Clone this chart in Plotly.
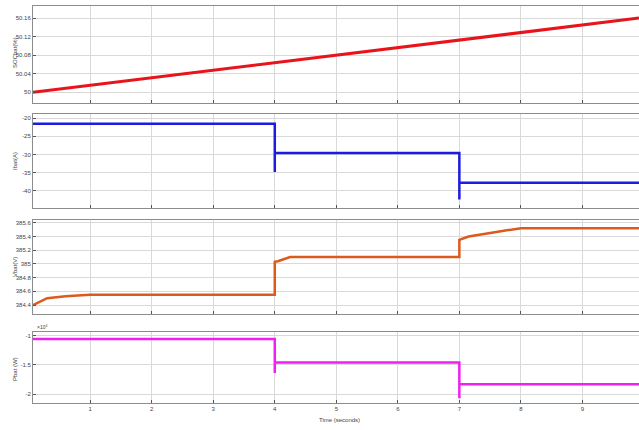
import plotly.graph_objects as go

# ---- data -------------------------------------------------------------
t_soc = [0.07, 4.0, 7.0, 9.92]
soc = [50.0, 50.064, 50.113, 50.16]

t_ib = [0.07, 4.0, 4.0, 4.0, 7.0, 7.0, 7.0, 9.92]
ib = [-21.6, -21.6, -34.8, -29.6, -29.6, -42.4, -37.8, -37.8]

t_v = [0.07, 0.3, 0.6, 1.0, 4.0, 4.0, 4.05, 4.25, 7.0, 7.0, 7.15, 7.4, 7.7, 8.0, 9.92]
v = [384.40, 384.50, 384.53, 384.55, 384.55, 385.03, 385.04, 385.10, 385.10,
     385.35, 385.40, 385.44, 385.48, 385.52, 385.52]

t_p = [0.07, 4.0, 4.0, 4.0, 7.0, 7.0, 7.0, 9.92]
p = [-1.06, -1.06, -1.64, -1.46, -1.46, -2.07, -1.83, -1.83]

x_ticks = [1, 2, 3, 4, 5, 6, 7, 8, 9]
soc_ticks = [50.0, 50.04, 50.08, 50.12, 50.16]
soc_labels = ["50", "50.04", "50.08", "50.12", "50.16"]
ib_ticks = [-40, -35, -30, -25, -20]
v_ticks = [384.4, 384.6, 384.8, 385.0, 385.2, 385.4, 385.6]
v_labels = ["384.4", "384.6", "384.8", "385", "385.2", "385.4", "385.6"]
p_ticks = [-2.0, -1.5, -1.0]
p_labels = ["-2", "-1.5", "-1"]

# ---- figure -----------------------------------------------------------
W, H = 639, 430
ML, MR, MT, MB = 33, 0, 6, 27
FONT = "Liberation Sans, Arial, sans-serif"
GRID = "#d9d9d9"
FRAME = "#8c8c8c"
TICKFONT = dict(family=FONT, size=6, color="#444444")

fig = go.Figure()

fig.add_trace(go.Scatter(x=t_soc, y=soc, mode="lines",
                         line=dict(color="#e8141c", width=3), xaxis="x", yaxis="y"))
fig.add_trace(go.Scatter(x=t_ib, y=ib, mode="lines",
                         line=dict(color="#1c1ce0", width=2.5), xaxis="x2", yaxis="y2"))
fig.add_trace(go.Scatter(x=t_v, y=v, mode="lines",
                         line=dict(color="#dc5a1e", width=2.5), xaxis="x3", yaxis="y3"))
fig.add_trace(go.Scatter(x=t_p, y=p, mode="lines",
                         line=dict(color="#f020f0", width=2.5), xaxis="x4", yaxis="y4"))

plot_h = H - MT - MB


def dom(top_px, bot_px):
    return [(H - MB - bot_px) / plot_h, (H - MB - top_px) / plot_h]


panels = [
    (6, 103, [49.977, 50.186], soc_ticks, soc_labels),
    (114, 208, [-44.7, -18.9], ib_ticks, [str(t) for t in ib_ticks]),
    (220, 314, [384.27, 385.64], v_ticks, v_labels),
    (332, 403, [-2.15, -0.94], p_ticks, p_labels),
]

x_range = [0.07, 9.92]
layout = dict(
    width=W, height=H,
    margin=dict(l=ML, r=MR, t=MT, b=MB),
    paper_bgcolor="white", plot_bgcolor="white",
    showlegend=False,
    font=dict(family=FONT, size=6, color="#444444"),
)

for i, (top, bot, yr, tv, tt) in enumerate(panels, start=1):
    xa = "xaxis" if i == 1 else f"xaxis{i}"
    ya = "yaxis" if i == 1 else f"yaxis{i}"
    yname = "y" if i == 1 else f"y{i}"
    layout[xa] = dict(
        domain=[0, 1], anchor=yname, range=x_range,
        tickvals=x_ticks, ticktext=[str(t) for t in x_ticks],
        showticklabels=(i == 4), ticks="inside", ticklen=3, tickcolor="#555555",
        showgrid=True, gridcolor=GRID, gridwidth=1,
        showline=True, linecolor=FRAME, linewidth=1, mirror=True,
        zeroline=False, tickfont=TICKFONT,
    )
    layout[ya] = dict(
        domain=dom(top, bot), anchor="x" if i == 1 else f"x{i}", range=yr,
        tickvals=tv, ticktext=tt, ticks="inside", ticklen=3, tickcolor="#555555",
        showgrid=True, gridcolor=GRID, gridwidth=1,
        showline=True, linecolor=FRAME, linewidth=1, mirror=True,
        zeroline=False, tickfont=TICKFONT,
    )

fig.update_layout(**layout)

# axis titles
titles = [("SOCbat(%)", 53), ("Ibat(A)", 161), ("Vbat(V)", 267), ("Pbat (W)", 369)]
for text, ypx in titles:
    fig.add_annotation(
        text=text, xref="paper", yref="paper",
        x=(15 - ML) / (W - ML - MR), y=(H - MB - ypx) / plot_h,
        showarrow=False, textangle=-90, xanchor="center", yanchor="middle",
        font=dict(family=FONT, size=6, color="#444444"),
    )

fig.add_annotation(
    text="Time (seconds)", xref="paper", yref="paper",
    x=(339 - ML) / (W - ML - MR), y=(H - MB - 420) / plot_h,
    showarrow=False, xanchor="center", yanchor="middle",
    font=dict(family=FONT, size=6, color="#444444"),
)

fig.add_annotation(
    text="×10<sup>4</sup>", xref="paper", yref="paper",
    x=(35 - ML) / (W - ML - MR), y=(H - MB - 327) / plot_h,
    showarrow=False, xanchor="left", yanchor="middle",
    font=dict(family=FONT, size=5, color="#444444"),
)

fig.write_html("out.html")
